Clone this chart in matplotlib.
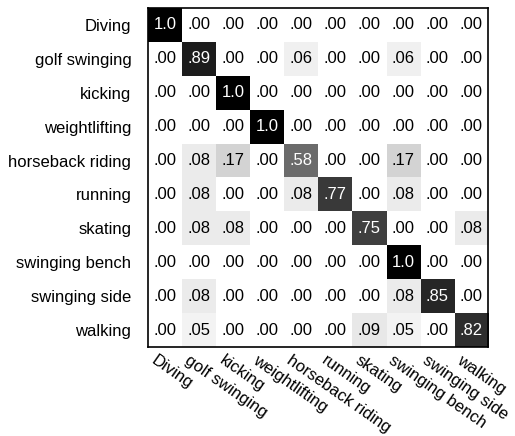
import matplotlib.pyplot as plt
import matplotlib.transforms as mtransforms
import numpy as np

plt.rcParams['font.family'] = ['Liberation Sans', 'DejaVu Sans']

classes = ["Diving", "golf swinging", "kicking", "weightlifting",
           "horseback riding", "running", "skating", "swinging bench",
           "swinging side", "walking"]

conf = np.array([
    [1.00, 0.00, 0.00, 0.00, 0.00, 0.00, 0.00, 0.00, 0.00, 0.00],
    [0.00, 0.89, 0.00, 0.00, 0.06, 0.00, 0.00, 0.06, 0.00, 0.00],
    [0.00, 0.00, 1.00, 0.00, 0.00, 0.00, 0.00, 0.00, 0.00, 0.00],
    [0.00, 0.00, 0.00, 1.00, 0.00, 0.00, 0.00, 0.00, 0.00, 0.00],
    [0.00, 0.08, 0.17, 0.00, 0.58, 0.00, 0.00, 0.17, 0.00, 0.00],
    [0.00, 0.08, 0.00, 0.00, 0.08, 0.77, 0.00, 0.08, 0.00, 0.00],
    [0.00, 0.08, 0.08, 0.00, 0.00, 0.00, 0.75, 0.00, 0.00, 0.08],
    [0.00, 0.00, 0.00, 0.00, 0.00, 0.00, 0.00, 1.00, 0.00, 0.00],
    [0.00, 0.08, 0.00, 0.00, 0.00, 0.00, 0.00, 0.08, 0.85, 0.00],
    [0.00, 0.05, 0.00, 0.00, 0.00, 0.00, 0.09, 0.05, 0.00, 0.82],
])


def fmt(v):
    # 1.0 on the diagonal, otherwise drop the leading zero
    if v >= 0.995:
        return "1.0"
    return ("%.2f" % v)[1:]


fig = plt.figure(figsize=(5.15, 4.36), dpi=100)
ax = fig.add_axes([148 / 515, 1 - 347 / 436, 340 / 515, 339 / 436])
ax.imshow(conf, cmap='binary', vmin=0, vmax=1, aspect='auto',
          interpolation='nearest')

n = len(classes)
for i in range(n):
    for j in range(n):
        v = conf[i, j]
        ax.text(j, i, fmt(v), ha='center', va='center', fontsize=12,
                color='white' if v > 0.5 else 'black')

ax.set_xticks(range(n))
ax.set_yticks(range(n))
ax.set_yticklabels(classes, fontsize=12)
ax.set_xticklabels(classes, fontsize=12, rotation=-35, ha='left',
                   rotation_mode='anchor')
ax.tick_params(axis='y', length=0, pad=12)
ax.tick_params(axis='x', length=0, pad=4)

# nudge the slanted column labels a little to the left
shift = mtransforms.ScaledTranslation(-8 / 100, 0, fig.dpi_scale_trans)
for lbl in ax.get_xticklabels():
    lbl.set_transform(lbl.get_transform() + shift)

for s in ax.spines.values():
    s.set_linewidth(1.2)

fig.savefig('out.png', dpi=100)
